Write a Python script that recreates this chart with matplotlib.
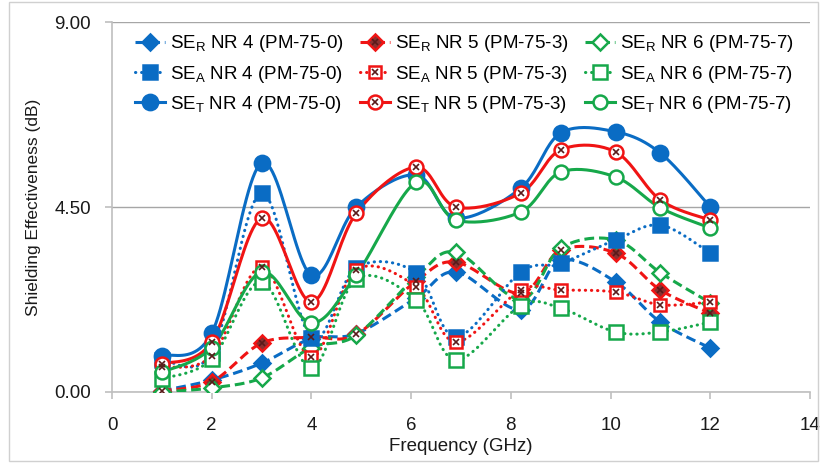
import numpy as np
import matplotlib
matplotlib.use("Agg")
import matplotlib.pyplot as plt
from matplotlib.lines import Line2D
from matplotlib.legend_handler import HandlerTuple
from matplotlib.patches import Rectangle

plt.rcParams['font.family'] = ['Liberation Sans', 'DejaVu Sans']
plt.rcParams['mathtext.default'] = 'regular'

# frequency (GHz)
freq = [1.0, 2.0, 3.0, 4.0, 4.9, 6.1, 6.9, 8.2, 9.0, 10.1, 11.0, 12.0]

# reflection
se_r_nr4 = [0.03, 0.29, 0.70, 1.30, 1.42, 2.29, 2.92, 2.00, 3.20, 2.68, 1.70, 1.07]
se_r_nr5 = [0.03, 0.25, 1.19, 1.33, 1.40, 2.70, 3.16, 2.40, 3.45, 3.38, 2.48, 1.92]
se_r_nr6 = [0.00, 0.10, 0.34, 1.08, 1.38, 2.80, 3.40, 2.25, 3.50, 3.70, 2.90, 2.17]
# absorption
se_a_nr4 = [0.78, 0.95, 4.84, 1.31, 3.02, 2.90, 1.34, 2.92, 3.13, 3.70, 4.06, 3.38]
se_a_nr5 = [0.60, 0.88, 3.04, 0.85, 2.97, 2.56, 1.22, 2.48, 2.48, 2.43, 2.12, 2.19]
se_a_nr6 = [0.32, 0.80, 2.68, 0.58, 2.75, 2.24, 0.78, 2.10, 2.04, 1.46, 1.46, 1.70]
# total
se_t_nr4 = [0.88, 1.43, 5.57, 2.84, 4.50, 5.28, 4.23, 4.96, 6.30, 6.33, 5.81, 4.50]
se_t_nr5 = [0.68, 1.22, 4.23, 2.19, 4.35, 5.47, 4.50, 4.84, 5.89, 5.84, 4.67, 4.18]
se_t_nr6 = [0.48, 1.08, 2.92, 1.68, 2.85, 5.10, 4.18, 4.38, 5.35, 5.23, 4.48, 3.99]

labels = {
    'r4': 'SE$_R$ NR 4 (PM-75-0)', 'r5': 'SE$_R$ NR 5 (PM-75-3)', 'r6': 'SE$_R$ NR 6 (PM-75-7)',
    'a4': 'SE$_A$ NR 4 (PM-75-0)', 'a5': 'SE$_A$ NR 5 (PM-75-3)', 'a6': 'SE$_A$ NR 6 (PM-75-7)',
    't4': 'SE$_T$ NR 4 (PM-75-0)', 't5': 'SE$_T$ NR 5 (PM-75-3)', 't6': 'SE$_T$ NR 6 (PM-75-7)',
}

BLUE = '#0a6cc4'
RED = '#f01414'
GREEN = '#16a84a'
DARK = '#5a1a1a'
TXT = '#1a1a1a'


def smooth(x, y, n=24):
    # excel-like smoothed line (catmull-rom as bezier), done in pixel space
    sx, sy = 49.9, 41.1
    p = np.column_stack([np.asarray(x) * sx, np.asarray(y) * sy])
    p = np.vstack([p[0], p, p[-1]])
    t = np.linspace(0, 1, n)[:, None]
    out = []
    for i in range(1, len(p) - 2):
        p0, p1, p2, p3 = p[i - 1], p[i], p[i + 1], p[i + 2]
        c1 = p1 + (p2 - p0) / 6
        c2 = p2 - (p3 - p1) / 6
        seg = (1 - t) ** 3 * p1 + 3 * (1 - t) ** 2 * t * c1 + 3 * (1 - t) * t ** 2 * c2 + t ** 3 * p2
        out.append(seg)
    out = np.vstack(out)
    return out[:, 0] / sx, out[:, 1] / sy


styles = {
    'dash': dict(linestyle=(0, (3.2, 1.6)), dash_capstyle='butt'),
    'dot': dict(linestyle=(0, (0.1, 1.9)), dash_capstyle='round'),
    'solid': dict(linestyle='-'),
}

series = [
    ('r4', se_r_nr4, BLUE, 'dash', 'D', 8, BLUE, False),
    ('r5', se_r_nr5, RED, 'dash', 'D', 8, '#8a3030', True),
    ('r6', se_r_nr6, GREEN, 'dash', 'D', 8, 'white', False),
    ('a4', se_a_nr4, BLUE, 'dot', 's', 10, BLUE, False),
    ('a5', se_a_nr5, RED, 'dot', 's', 9, 'white', True),
    ('a6', se_a_nr6, GREEN, 'dot', 's', 10, 'white', False),
    ('t4', se_t_nr4, BLUE, 'solid', 'o', 11, BLUE, False),
    ('t5', se_t_nr5, RED, 'solid', 'o', 10, 'white', True),
    ('t6', se_t_nr6, GREEN, 'solid', 'o', 10, 'white', False),
]

fig = plt.figure(figsize=(8.21, 4.63), dpi=100)
ax = fig.add_axes([112 / 821, 1 - 392 / 463, 698 / 821, 370 / 463])

handles = {}
for key, vals, col, ls, mk, ms, face, cross in series:
    xs, ys = smooth(freq, vals)
    lw = 2.2
    ax.plot(xs, ys, color=col, lw=lw, zorder=3, **styles[ls])
    ax.plot(freq, vals, linestyle='none', marker=mk, ms=ms, mfc=face, mec=col,
            mew=1.8, zorder=4)
    h = Line2D([], [], color=col, lw=lw, marker=mk, ms=ms, mfc=face, mec=col,
               mew=1.8, **styles[ls])
    if cross:
        ax.plot(freq, vals, linestyle='none', marker='x', ms=4.5, color=DARK,
                mew=1.2, zorder=5)
        hx = Line2D([], [], linestyle='none', marker='x', ms=4.5, color=DARK, mew=1.2)
        h = (h, hx)
    handles[key] = h

ax.set_xlim(0, 14)
ax.set_ylim(0, 9)
ax.set_xticks(range(0, 15, 2))
ax.set_yticks([0, 4.5, 9])
ax.set_yticklabels(['0.00', '4.50', '9.00'])
ax.grid(axis='y', color='#a6a6a6', lw=1.0, zorder=0)
for s in ['top', 'right']:
    ax.spines[s].set_visible(False)
for s in ['left', 'bottom']:
    ax.spines[s].set_color('#bfbfbf')
    ax.spines[s].set_linewidth(1.2)
ax.tick_params(axis='both', colors='#bfbfbf', length=5, width=1.2,
               labelsize=13.5, labelcolor=TXT)
ax.tick_params(axis='x', pad=13)
ax.tick_params(axis='y', pad=10)
ax.set_xlabel('Frequency (GHz)', fontsize=13.5, color=TXT, labelpad=3)
ax.set_ylabel('Shielding Effectiveness (dB)', fontsize=12.5, color=TXT, labelpad=10)

order = ['r4', 'a4', 't4', 'r5', 'a5', 't5', 'r6', 'a6', 't6']
leg = ax.legend([handles[k] for k in order], [labels[k] for k in order],
                ncol=3, loc='upper center', bbox_to_anchor=(0.505, 1.005),
                frameon=False, fontsize=13.5, handlelength=1.6,
                handletextpad=0.25, columnspacing=0.9, labelspacing=0.5,
                borderaxespad=0.3,
                handler_map={tuple: HandlerTuple(ndivide=1, pad=0)})

fig.patches.append(Rectangle((9 / 821, 2 / 463), 809 / 821, 459 / 463,
                             transform=fig.transFigure, fill=False,
                             edgecolor='#d0d0d0', lw=1))

fig.savefig('out.png', dpi=100)
